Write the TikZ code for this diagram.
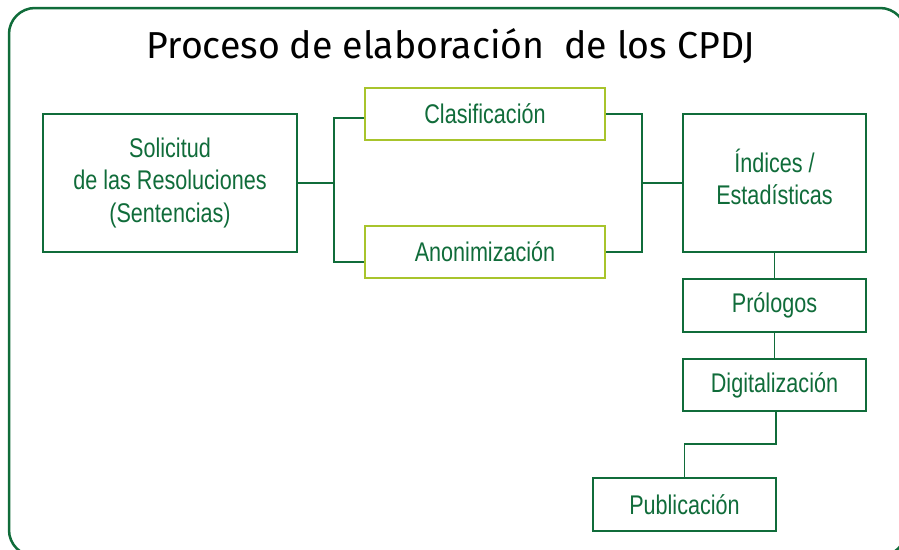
\documentclass[tikz,border=0pt]{standalone}
\usepackage{fontspec}
\setmainfont{Liberation Sans}
\newfontfamily\titlefont{Fira Sans}
\newfontfamily\boxfont[FakeStretch=0.8]{Liberation Sans}
\usetikzlibrary{positioning, calc}
\definecolor{cpdjgreen}{RGB}{16, 108, 58}
\definecolor{cpdjlime}{RGB}{168, 196, 44}

\begin{document}
\begin{tikzpicture}[
  x=1pt, y=-1pt,
  stage/.style={draw=cpdjgreen, line width=2pt, fill=white, text=cpdjgreen, align=center, inner sep=2pt, font=\boxfont\fontsize{27}{32.5}\selectfont},
  substage/.style={stage, draw=cpdjlime},
  link/.style={draw=cpdjgreen, line width=1.3pt}
]
  \useasboundingbox (0,0) rectangle (899,549);
  \draw[cpdjgreen, line width=2.5pt, rounded corners=26pt] (9,8) rectangle (906,556);
  \node[font=\titlefont\fontsize{37.5}{40}\selectfont] (title) at (451,46) {Proceso de elaboración\ \ de los CPDJ};

  % left column
  \node[stage, minimum width=254, minimum height=138] (solicitud) at (170,183) {Solicitud\\de las Resoluciones\\(Sentencias)};
  \node[substage, minimum width=240, minimum height=52] (clasif) at (485,114) {Clasificación};
  \node[substage, minimum width=240, minimum height=52] (anonim) at (485,252) {Anonimización};

  % right column
  \node[stage, minimum width=183, minimum height=138] (indices) at (774.5,183) {Índices /\\Estadísticas\\[-20.5pt]};
  \node[stage, minimum width=183, minimum height=53] (prologos) at (774.5,305.5) {Prólogos};
  \node[stage, minimum width=183, minimum height=52] (digital) at (774.5,385) {Digitalización};
  \node[stage, minimum width=183, minimum height=53] (publica) at (684.5,504.5) {Publicación};

  % connectors
  \coordinate (splitL) at ($(solicitud.east)+(36,0)$);
  \draw[link] (solicitud.east) -- (splitL);
  \draw[link] ($(clasif.west)+(0,4)$) -| (splitL) |- ($(anonim.west)+(0,10)$);
  \coordinate (joinR) at ($(indices.west)+(-40,0)$);
  \draw[link] (indices.west) -- (joinR);
  \draw[link] (clasif.east) -| (joinR) |- (anonim.east);
  \draw[link] (indices.south) -- (prologos.north);
  \draw[link] (prologos.south) -- (digital.north);
  \draw[link] ($(digital.south)+(1.5,0)$) -- ++(0,32) -| (publica.north);
\end{tikzpicture}
\end{document}
